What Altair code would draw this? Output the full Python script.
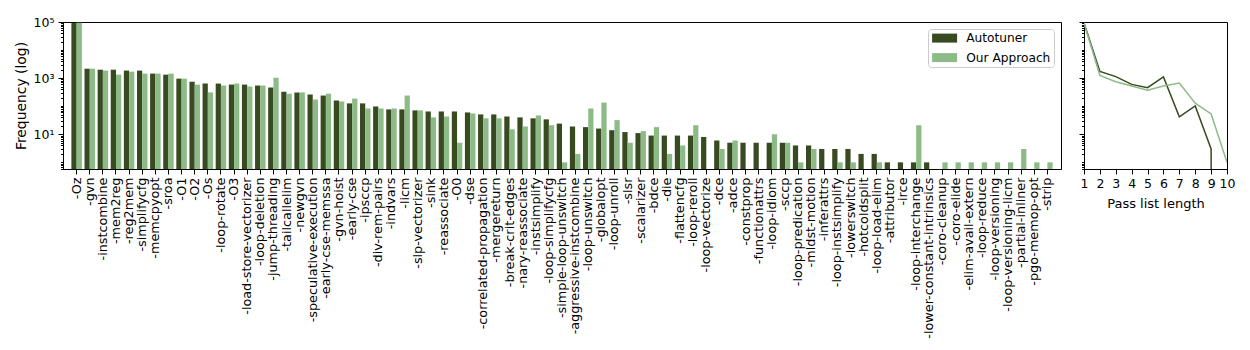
import altair as alt
import pandas as pd

# ---------------- data ----------------
passes = [
    "-Oz", "-gvn", "-instcombine", "-mem2reg", "-reg2mem", "-simplifycfg", "-memcpyopt", "-sroa",
    "-O1", "-O2", "-Os", "-loop-rotate", "-O3", "-load-store-vectorizer", "-loop-deletion",
    "-jump-threading", "-tailcallelim", "-newgvn", "-speculative-execution", "-early-cse-memssa",
    "-gvn-hoist", "-early-cse", "-ipsccp", "-div-rem-pairs", "-indvars", "-licm", "-slp-vectorizer",
    "-sink", "-reassociate", "-O0", "-dse", "-correlated-propagation", "-mergereturn",
    "-break-crit-edges", "-nary-reassociate", "-instsimplify", "-loop-simplifycfg",
    "-simple-loop-unswitch", "-aggressive-instcombine", "-loop-unswitch", "-globalopt",
    "-loop-unroll", "-slsr", "-scalarizer", "-bdce", "-die", "-flattencfg", "-loop-reroll",
    "-loop-vectorize", "-dce", "-adce", "-constprop", "-functionattrs", "-loop-idiom", "-sccp",
    "-loop-predication", "-mldst-motion", "-inferattrs", "-loop-instsimplify", "-lowerswitch",
    "-hotcoldsplit", "-loop-load-elim", "-attributor", "-irce", "-loop-interchange",
    "-lower-constant-intrinsics", "-coro-cleanup", "-coro-elide", "-elim-avail-extern",
    "-loop-reduce", "-loop-versioning", "-loop-versioning-licm", "-partial-inliner",
    "-pgo-memop-opt", "-strip",
]

autotuner = [
    95000, 2170, 2000, 2000, 1860, 1860, 1450, 1330, 960, 750,
    640, 640, 590, 590, 545, 460, 330, 310, 260, 240,
    160, 126, 126, 98, 77, 77, 71, 65, 65, 65,
    60, 51, 51, 43, 40, 37, 34, 24, 19, 18,
    16, 14, 12, 11, 9, 9, 9, 9, 8, 6,
    5, 5, 5, 5, 5, 4, 4, 3, 3, 3,
    2, 2, 1, 1, 1, 1,
    0, 0, 0, 0, 0, 0, 0, 0, 0,
]

our_approach = [
    95000, 2170, 1860, 1330, 1700, 1450, 1450, 1450, 960, 590,
    310, 545, 640, 500, 545, 1040, 280, 310, 174, 280,
    148, 187, 83, 83, 83, 240, 71, 40, 43, 5,
    55, 37, 37, 15, 19, 47, 21, 1, 2, 83,
    135, 32, 5, 13, 18, 2, 4, 21, 0, 3,
    6, 0, 0, 10, 5, 1, 3, 0, 1, 1,
    0, 1, 0, 0, 21, 0,
    1, 1, 1, 1, 1, 1, 3, 1, 1,
]

pass_list_length = [1, 2, 3, 4, 5, 6, 7, 8, 9, 10]
autotuner_by_length = [92000, 1740, 1130, 600, 460, 1100, 42, 102, 3, 0]
our_approach_by_length = [92000, 1260, 740, 525, 370, 525, 670, 129, 53, 1]

series_names = ["Autotuner", "Our Approach"]
series_colors = ["#384a1f", "#8cbb87"]

# ---------------- shared log axis ----------------
y_domain = [0.58, 100000]
log_ticks = [0.6, 0.7, 0.8, 0.9] + [m * 10 ** k for k in range(5) for m in range(1, 10)] + [100000]
major_test = "datum.value == 100000 || datum.value == 1000 || datum.value == 10"
label_expr = ("datum.value == 100000 ? '10⁵' : datum.value == 1000 ? '10³' : "
              "datum.value == 10 ? '10¹' : ''")
tick_size = {"condition": {"test": major_test, "value": 5}, "value": 2.5}
y_scale = alt.Scale(type="log", domain=y_domain, nice=False)
color_scale = alt.Scale(domain=series_names, range=series_colors)

# ---------------- left: per-pass frequencies ----------------
bar_df = pd.DataFrame({
    "pass": passes * 2,
    "series": [series_names[0]] * len(passes) + [series_names[1]] * len(passes),
    "freq": autotuner + our_approach,
})

bars = alt.Chart(bar_df).transform_filter("datum.freq > 0").mark_bar(clip=True).encode(
    x=alt.X("pass:N", sort=passes, title=None,
            scale=alt.Scale(domain=passes, paddingInner=0.2, paddingOuter=0.64),
            axis=alt.Axis(labelAngle=270, labelAlign="right", labelBaseline="middle",
                          tickSize=5, labelPadding=3, labelFontSize=12.8,
                          labelOverlap=False, labelLimit=0)),
    xOffset=alt.XOffset("series:N", sort=series_names,
                        scale=alt.Scale(domain=series_names, paddingInner=0, paddingOuter=0)),
    y=alt.Y("freq:Q", title="Frequency (log)", scale=y_scale,
            axis=alt.Axis(values=log_ticks, labelExpr=label_expr, tickSize=tick_size,
                          labelOverlap=False, labelPadding=4, titlePadding=5,
                          labelFontSize=12.5, titleFontSize=13.9)),
    y2=alt.datum(y_domain[0]),
    color=alt.Color("series:N", scale=color_scale,
                    legend=alt.Legend(title=None, orient="top-right", offset=7,
                                      symbolType="M-1,-0.9L4,-0.9L4,0.9L-1,0.9Z",
                                      symbolSize=100, symbolStrokeWidth=0, symbolOpacity=1,
                                      labelFontSize=12.2, labelOffset=23, rowPadding=6.5,
                                      padding=3, strokeColor="#cccccc", cornerRadius=3,
                                      fillColor="rgba(255,255,255,0.8)", labelColor="black")),
).properties(width=998, height=147)

# ---------------- right: by pass-list length ----------------
len_df = pd.DataFrame({
    "length": pass_list_length * 2,
    "series": [series_names[0]] * len(pass_list_length) + [series_names[1]] * len(pass_list_length),
    "n": autotuner_by_length + our_approach_by_length,
})

lines = alt.Chart(len_df).transform_calculate(
    n_plot="max(datum.n, 1e-300)"
).mark_line(strokeWidth=1.5, clip=True).encode(
    x=alt.X("length:Q", title="Pass list length",
            scale=alt.Scale(domain=[1, 10], nice=False, zero=False),
            axis=alt.Axis(values=pass_list_length, format="d", tickSize=5, labelFontSize=12.5,
                          titleFontSize=13, labelFlush=False, labelOverlap=False,
                          labelPadding=3, titlePadding=8)),
    y=alt.Y("n_plot:Q", title=None, scale=y_scale,
            axis=alt.Axis(values=log_ticks, labels=False, tickSize=tick_size)),
    color=alt.Color("series:N", scale=color_scale, legend=None),
).properties(width=143, height=147)

chart = alt.hconcat(bars, lines, spacing=16).resolve_scale(
    color="independent", y="independent"
).properties(
    padding={"left": 5, "top": 7, "right": 5, "bottom": 0}
).configure(
    font="DejaVu Sans"
).configure_axis(
    domainColor="black", tickColor="black", labelColor="black", titleColor="black",
    grid=False, titleFontWeight="normal", domainWidth=1, tickWidth=1,
).configure_view(
    stroke="black", strokeWidth=1
)

chart.save("out.html", embed_options={"renderer": "svg", "actions": False})
